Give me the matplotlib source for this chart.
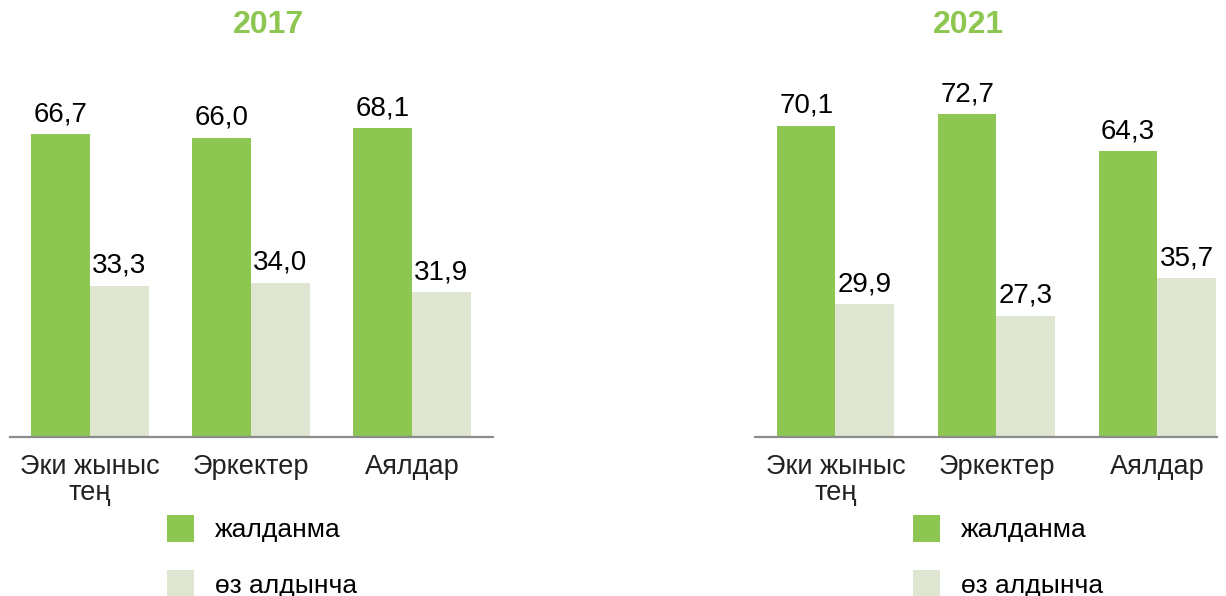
import matplotlib
matplotlib.use("Agg")
import matplotlib.pyplot as plt
import numpy as np

plt.rcParams['font.family'] = ['Liberation Sans', 'DejaVu Sans']

categories = ["Эки жыныс\nтең", "Эркектер", "Аялдар"]
years = ["2017", "2021"]
hired = {"2017": [66.7, 66.0, 68.1], "2021": [70.1, 72.7, 64.3]}
self_emp = {"2017": [33.3, 34.0, 31.9], "2021": [29.9, 27.3, 35.7]}
series_names = ["жалданма", "өз алдынча"]

green = "#8dc650"
light = "#dee6d1"

W, H = 1226, 596
fig = plt.figure(figsize=(W / 100, H / 100), dpi=100)

# axes placement in pixels: (left, width, xlim right, ylim top)
panels = {"2017": (9.5, 483, 2.5, 80.0), "2021": (755, 462, 2.37, 81.7)}
title_x = {"2017": 268, "2021": 968}
legend_x = {"2017": 167, "2021": 913}

x = np.arange(len(categories))
w = 0.364
for yr in years:
    left, width, xr, ytop = panels[yr]
    ax = fig.add_axes([left / W, (H - 437) / H, width / W, (437 - 74) / H])
    b1 = ax.bar(x - w / 2, hired[yr], w, color=green, label=series_names[0])
    b2 = ax.bar(x + w / 2, self_emp[yr], w, color=light, label=series_names[1])
    for bars in (b1, b2):
        for rect in bars:
            v = rect.get_height()
            ax.annotate(f"{v:.1f}".replace(".", ","),
                        (rect.get_x() + rect.get_width() / 2, v),
                        xytext=(0, 5), textcoords="offset points",
                        ha="center", va="bottom", fontsize=20)
    ax.set_xlim(-0.5, xr)
    ax.set_ylim(0, ytop)
    ax.set_xticks(x)
    ax.set_xticklabels(categories, fontsize=19.5, color="#222222", linespacing=1.0)
    ax.tick_params(axis="x", length=0, pad=12)
    ax.set_yticks([])
    for s in ["top", "left", "right"]:
        ax.spines[s].set_visible(False)
    ax.spines["bottom"].set_color("#8c8c8c")
    ax.spines["bottom"].set_linewidth(1.6)

    fig.text(title_x[yr] / W, 1 - 25 / H, yr, color=green, fontsize=23,
             fontweight="bold", ha="center", va="center")

    fig.legend(handles=[b1, b2], labels=series_names, loc="upper left",
               bbox_to_anchor=(legend_x[yr] / W, 1 - 515 / H),
               frameon=False, fontsize=19, handlelength=1.02, handleheight=1.2,
               handletextpad=0.8, labelspacing=1.05, borderpad=0, borderaxespad=0)

fig.savefig("out.png", dpi=100)
